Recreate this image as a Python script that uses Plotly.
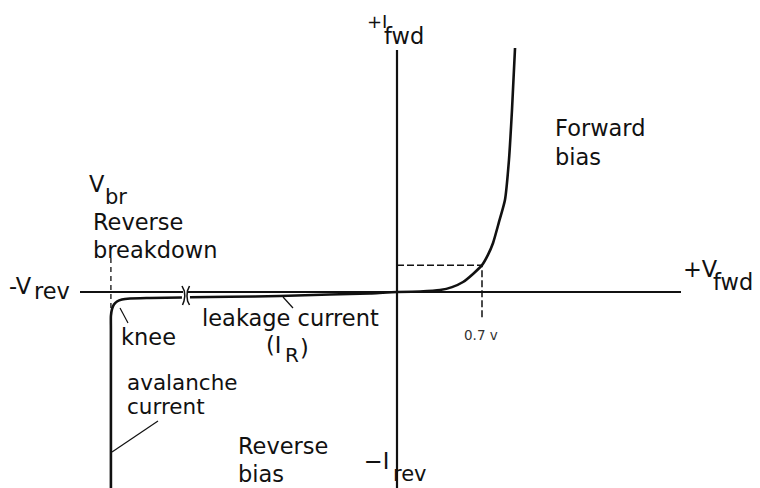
import plotly.graph_objects as go

# ---- Diode I-V characteristic (schematic units: volts, mA) ----
# Forward-bias branch
fwd_v = [0.0, 0.19, 0.354, 0.453, 0.544, 0.626, 0.70, 0.749, 0.791, 0.840, 0.889, 0.922, 0.947, 0.972]
fwd_i = [0.0, 0.02, 0.08, 0.20, 0.41, 0.74, 1.10, 1.52, 2.01, 2.87, 3.77, 5.41, 7.46, 10.0]

# Reverse-bias branch (leakage, break in the voltage axis, knee, avalanche)
rev_v = [0.0, -0.222, -0.553, -0.964, -1.376, -1.705, None,
         -1.771, -2.034, -2.199, -2.265, -2.306, -2.331, -2.347, -2.356, -2.356, -2.356]
rev_i = [0.0, -0.061, -0.102, -0.164, -0.197, -0.213, None,
         -0.225, -0.246, -0.266, -0.307, -0.389, -0.512, -0.697, -0.984, -1.557, -8.3]

v_knee = 0.7          # forward threshold
i_knee = 1.10
v_br = -2.356         # breakdown voltage (schematic)

# ---- canvas / axis scaling ----
W, H = 760, 488
X0_PX, Y0_PX = 397, 292          # origin position
V_PER_PX = 0.7 / 85
I_PER_PX = 10.0 / 244


def vx(px):
    return (px - X0_PX) * V_PER_PX


def iy(py):
    return (Y0_PX - py) * I_PER_PX


x_range = [vx(0), vx(W)]
y_range = [iy(H), iy(0)]

INK = "#111111"
FONT = "DejaVu Sans"
FS = 22.5

fig = go.Figure()

# axes drawn as lines (horizontal one broken near the left)
fig.add_trace(go.Scatter(x=[vx(80), vx(183), None, vx(188), vx(681)],
                         y=[0, 0, None, 0, 0], mode="lines",
                         line=dict(color=INK, width=2.2), hoverinfo="skip"))
fig.add_trace(go.Scatter(x=[0, 0], y=[iy(50), iy(H + 5)], mode="lines",
                         line=dict(color=INK, width=2.2), hoverinfo="skip"))

# break marks on the voltage axis
fig.add_trace(go.Scatter(x=[vx(182), vx(184.3), vx(184.8), vx(184), vx(182.5)],
                         y=[iy(286), iy(291), iy(296), iy(301), iy(305)],
                         mode="lines", line=dict(color=INK, width=1.5), hoverinfo="skip"))
fig.add_trace(go.Scatter(x=[vx(189.5), vx(187.4), vx(187), vx(187.6), vx(189.5)],
                         y=[iy(286), iy(291), iy(296), iy(301), iy(305)],
                         mode="lines", line=dict(color=INK, width=1.5), hoverinfo="skip"))

# guide lines
fig.add_trace(go.Scatter(x=[0, v_knee, v_knee], y=[i_knee, i_knee, iy(320)], mode="lines",
                         line=dict(color=INK, width=1.5, dash="7px,3px"), hoverinfo="skip"))
fig.add_trace(go.Scatter(x=[v_br, v_br], y=[iy(258), iy(308)], mode="lines",
                         line=dict(color=INK, width=1.3, dash="5px,4px"), hoverinfo="skip"))

# I-V curve
fig.add_trace(go.Scatter(x=fwd_v, y=fwd_i, mode="lines", line=dict(color=INK, width=2.6,
                         shape="spline", smoothing=0.6), hoverinfo="skip"))
fig.add_trace(go.Scatter(x=rev_v, y=rev_i, mode="lines", line=dict(color=INK, width=2.6,
                         shape="spline", smoothing=0.5), hoverinfo="skip", connectgaps=False))

# pointer lines
for (ax0, ay0, ax1, ay1) in [(112, 452, 158, 421), (120, 308, 128, 323), (283, 297, 293, 308)]:
    fig.add_trace(go.Scatter(x=[vx(ax0), vx(ax1)], y=[iy(ay0), iy(ay1)], mode="lines",
                             line=dict(color=INK, width=1.2), hoverinfo="skip"))

annotations = []


def label(text, px, py, size=FS, anchor="left", color=INK):
    annotations.append(dict(text=text, x=px / W, y=1 - py / H, xref="paper", yref="paper",
                            xanchor=anchor, yanchor="middle", showarrow=False, borderpad=0,
                            font=dict(family=FONT, size=size, color=color)))


label("+I", 366, 22, size=18)
label("fwd", 383, 36)
label("Forward", 554, 128)
label("bias", 554, 157)
label("V", 88, 184)
label("br", 104, 197, size=21)
label("Reverse", 92, 222)
label("breakdown", 92, 250)
label("-V", 8, 286)
label("rev", 33, 291)
label("+V", 682, 269)
label("fwd", 712, 282)
label("knee", 120, 337)
label("leakage current", 201, 318)
label("(I", 265, 345)
label("R", 284, 355, size=20)
label(")", 299, 348)
label("0.7 v", 481, 335, size=13.5, anchor="center", color="#333333")
label("avalanche", 126, 382, size=21.5)
label("current", 126, 406, size=21.5)
label("Reverse", 237, 446)
label("bias", 237, 474)
label("\u2212I", 363, 461)
label("rev", 392, 474, size=21)

fig.update_layout(
    width=W, height=H,
    margin=dict(l=0, r=0, t=0, b=0),
    paper_bgcolor="white", plot_bgcolor="white",
    showlegend=False,
    xaxis=dict(range=x_range, visible=False, fixedrange=True),
    yaxis=dict(range=y_range, visible=False, fixedrange=True),
    annotations=annotations,
)

fig.write_html("out.html")
